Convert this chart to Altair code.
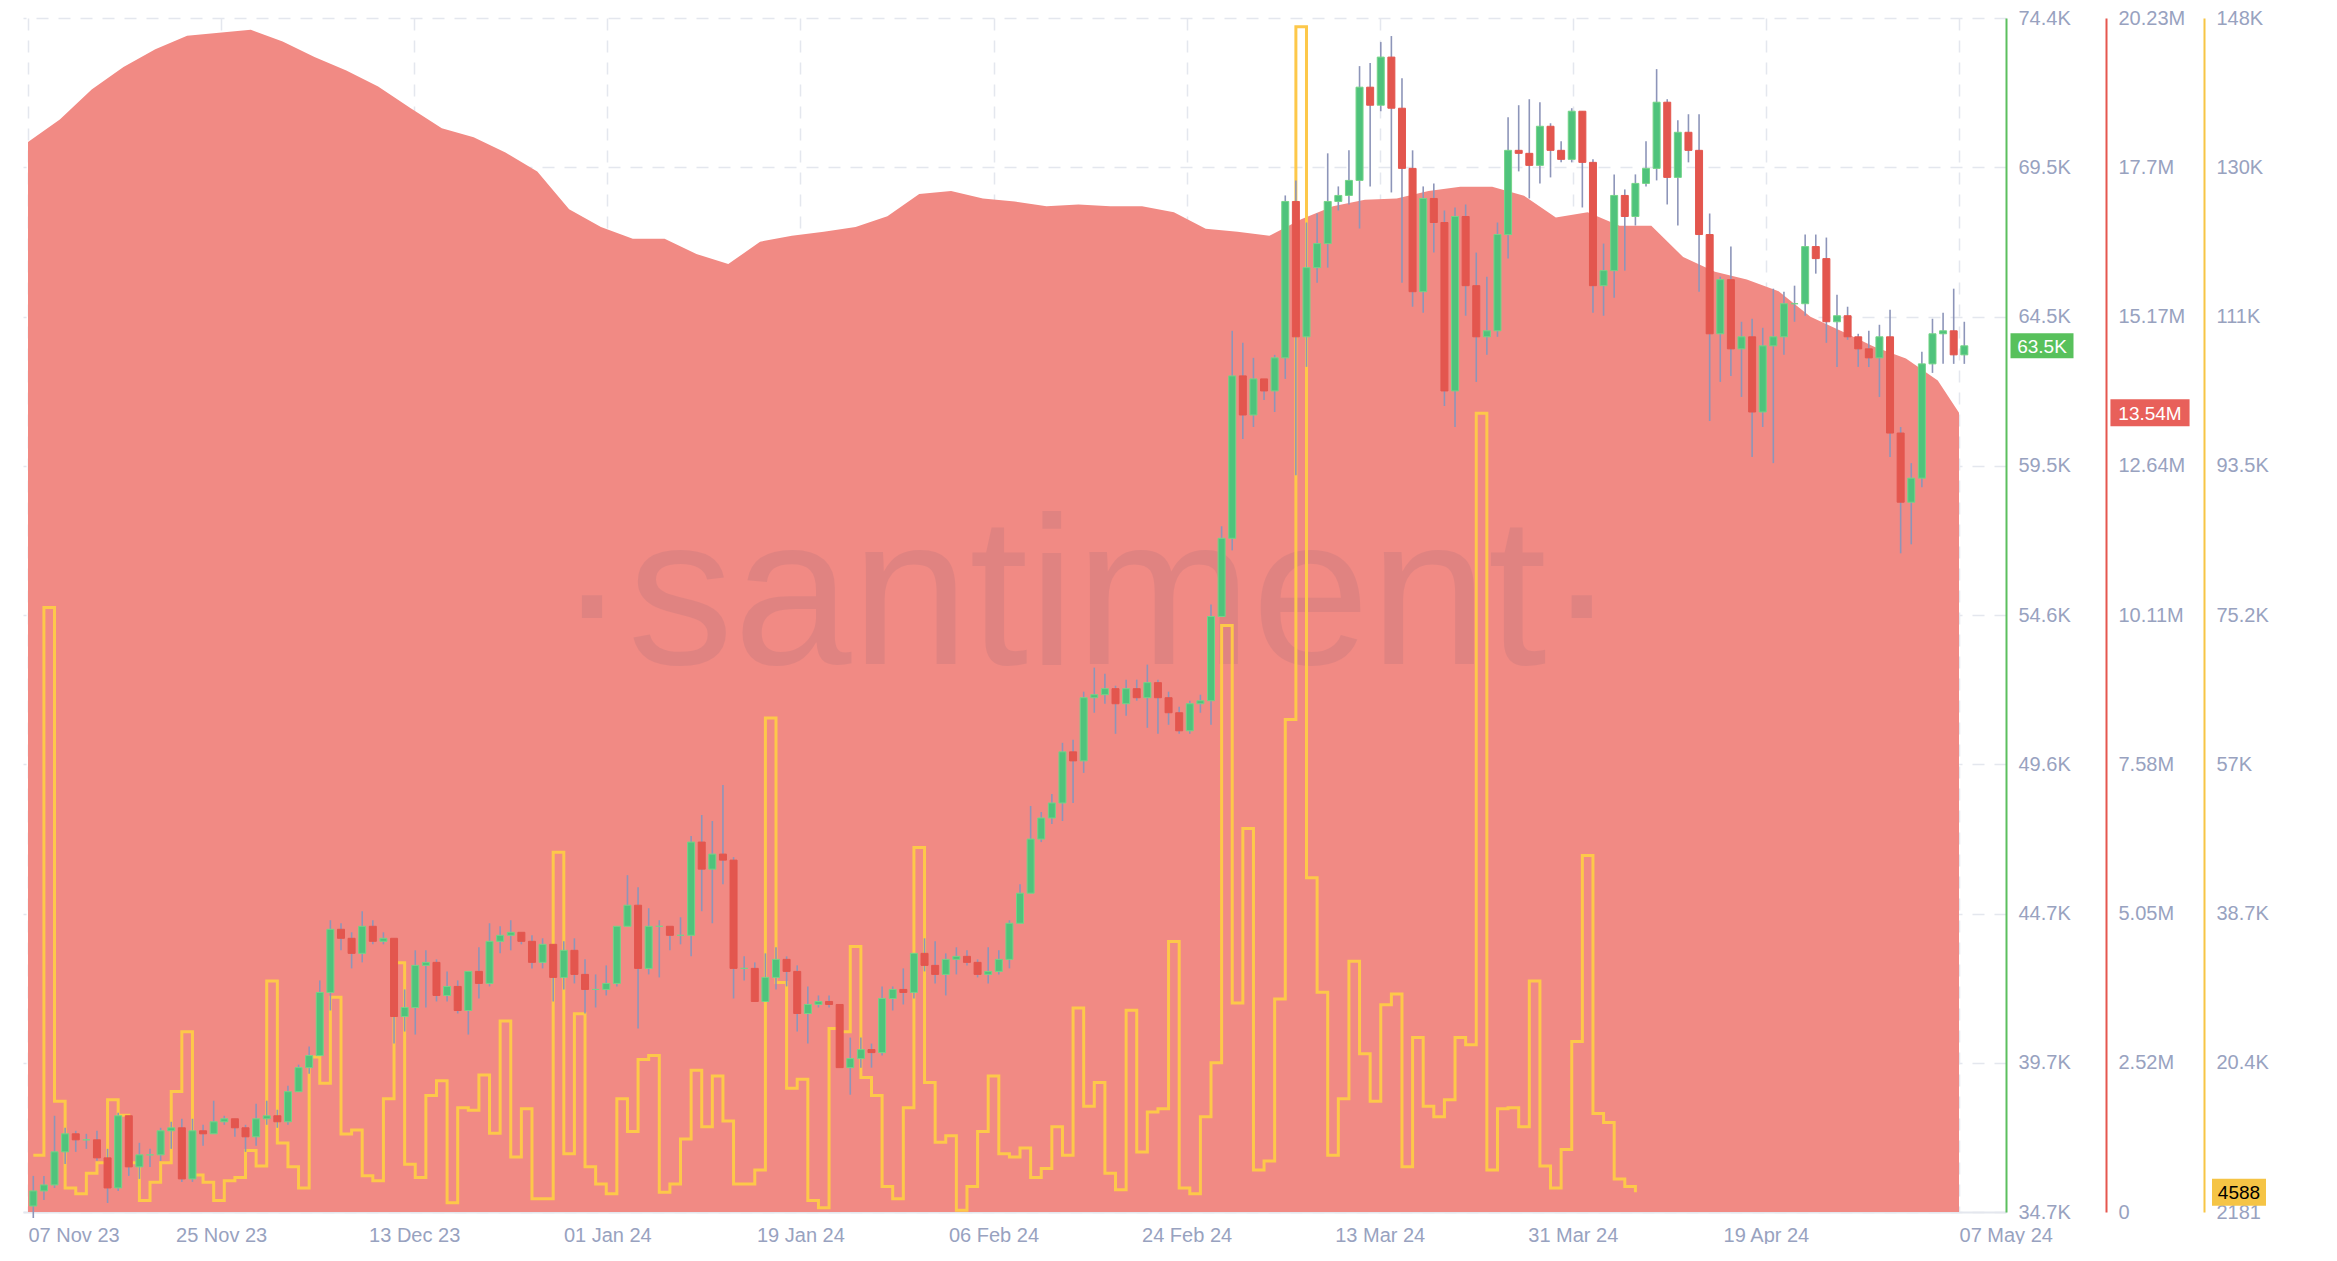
import json
import numpy as np
import pandas as pd
import altair as alt

FONT = "Liberation Sans"

# ---------------- data ----------------
# Daily BTC candles, thousands of USD (Nov 07 2023 .. May 07 2024)
FIRST_OPEN = 34.9
CLOSE = [
    35.4, 35.6, 36.7, 37.3, 37.1, 37.1, 36.5, 35.5, 37.9, 36.2, 36.6, 36.6, 37.4, 37.5, 35.8, 37.4, 37.3, 37.7, 37.8, 37.5, 37.2, 37.8, 37.9, 37.7,
    38.7, 39.5, 39.9, 42.0, 44.1, 43.8, 43.3, 44.2, 43.7, 43.8, 41.2, 41.5, 42.9, 43.0, 41.9, 42.2, 41.4, 42.7, 42.3, 43.7, 43.9, 44.0, 43.7, 43.0, 43.6, 42.5, 43.4, 42.6, 42.1, 42.1, 42.3,
    44.2, 44.9, 42.8, 44.2, 44.2, 43.9, 43.9, 47.0, 46.1, 46.6, 46.4, 42.8, 42.8, 41.7, 42.5, 43.1, 42.7, 41.3, 41.6, 41.7, 41.6, 39.5, 39.8, 40.1, 40.0, 41.8, 42.1, 42.0, 43.3, 42.9, 42.6,
    43.1, 43.2, 43.0, 42.6, 42.7, 43.1, 44.3, 45.3, 47.1, 47.8, 48.3, 50.0, 49.7, 51.8, 51.9, 52.1, 51.6, 52.1, 51.8, 52.3, 51.8, 51.3, 50.7, 51.6, 51.7, 54.5, 57.1, 62.5, 61.2,
    62.4, 62.0, 63.1, 68.3, 63.8, 66.1, 66.9, 68.3, 68.5, 69.0, 72.1, 71.5, 73.1, 71.4, 69.4, 65.3, 68.4, 67.6, 62.0, 67.8, 65.5, 63.8, 64.0, 67.2, 70.0, 69.9, 69.5, 70.8, 70.0, 69.7, 71.3,
    69.6, 65.5, 66.0, 68.5, 67.8, 68.9, 69.4, 71.6, 69.1, 70.6, 70.0, 67.2, 63.9, 65.7, 63.4, 63.8, 61.3, 63.5, 63.8, 64.9, 64.9, 66.8, 66.4, 64.3, 64.5, 63.8, 63.4, 63.1, 63.8, 60.6,
    58.3, 59.1, 62.9, 63.9, 64.0, 63.2, 63.5,
]
HIGH = [
    35.9, 35.9, 37.9, 37.5, 37.4, 37.3, 37.4, 36.8, 38.0, 37.9, 37.0, 36.8, 37.5, 37.7, 37.8, 37.8, 37.6, 38.4, 37.9, 37.8, 37.6, 38.3, 38.4, 38.1,
    38.9, 39.6, 40.2, 42.4, 44.4, 44.3, 44.0, 44.7, 44.4, 44.0, 43.8, 42.1, 43.4, 43.4, 43.1, 42.7, 42.4, 42.7, 43.5, 44.3, 44.2, 44.4, 44.0, 43.9, 43.8, 43.6, 43.7, 43.8, 43.1, 42.6, 42.9,
    44.2, 45.9, 45.5, 44.8, 44.4, 44.2, 44.5, 47.2, 47.9, 47.7, 48.9, 46.5, 43.2, 43.0, 43.3, 43.5, 43.2, 42.9, 42.2, 41.9, 41.9, 41.6, 40.5, 40.5, 40.3, 42.2, 42.2, 42.8, 43.3, 43.8, 43.7,
    43.3, 43.5, 43.4, 43.1, 43.5, 43.4, 44.4, 45.6, 48.2, 48.0, 48.6, 50.3, 50.4, 52.0, 52.8, 52.6, 52.2, 52.4, 52.4, 52.9, 52.4, 52.0, 51.5, 51.7, 51.9, 54.9, 57.5, 64.0, 63.6,
    63.1, 62.4, 63.2, 68.5, 69.0, 67.6, 67.9, 69.9, 68.8, 70.0, 72.8, 72.9, 73.6, 73.8, 72.4, 70.0, 68.8, 68.9, 68.0, 68.1, 68.2, 66.6, 65.8, 67.6, 71.1, 71.5, 71.7, 71.6, 70.9, 70.3, 71.4,
    71.3, 69.7, 66.9, 69.2, 68.7, 69.2, 70.3, 72.7, 71.7, 71.0, 71.2, 71.2, 67.9, 65.8, 66.8, 64.3, 64.4, 64.1, 65.4, 65.3, 65.5, 67.2, 67.2, 67.1, 65.2, 64.8, 63.9, 64.0, 64.2, 64.7,
    60.8, 59.6, 63.3, 64.4, 64.6, 65.4, 64.3,
]
LOW = [
    34.5, 35.1, 35.5, 36.3, 36.7, 36.8, 36.4, 35.0, 35.4, 35.9, 35.8, 36.2, 36.4, 36.8, 35.7, 35.7, 36.9, 37.3, 37.6, 37.2, 36.7, 36.9, 37.6, 37.5,
    37.6, 38.7, 39.3, 39.9, 41.4, 43.4, 42.8, 43.0, 43.6, 43.6, 40.3, 40.7, 40.6, 41.5, 41.7, 41.7, 41.3, 40.6, 41.8, 42.2, 43.3, 43.4, 43.6, 42.8, 42.8, 41.7, 42.1, 42.3, 41.3, 41.5, 41.9,
    42.2, 44.2, 40.8, 42.6, 42.5, 43.4, 43.6, 43.2, 44.7, 44.3, 45.6, 41.8, 42.4, 41.7, 41.7, 42.1, 42.2, 40.7, 40.3, 41.5, 41.5, 39.5, 38.6, 39.5, 39.5, 39.9, 41.4, 41.6, 41.8, 42.7, 42.3,
    41.9, 42.6, 42.9, 42.5, 42.3, 42.6, 42.8, 44.3, 45.3, 47.0, 47.6, 47.7, 48.3, 49.3, 51.3, 51.6, 50.6, 51.2, 51.7, 50.8, 50.6, 50.9, 50.6, 50.6, 51.3, 50.9, 54.5, 56.7, 60.4,
    60.8, 61.7, 61.3, 62.4, 59.2, 62.8, 65.6, 66.1, 68.0, 68.2, 67.4, 68.8, 71.3, 68.6, 65.6, 64.8, 64.6, 66.6, 61.5, 60.8, 64.5, 62.3, 63.2, 63.8, 66.4, 69.3, 68.4, 68.9, 69.1, 69.6, 69.6,
    68.1, 64.6, 64.5, 65.1, 66.0, 67.5, 68.8, 69.0, 68.2, 67.5, 69.6, 65.3, 61.0, 62.3, 62.5, 61.8, 59.8, 60.8, 59.6, 63.2, 64.3, 64.5, 65.9, 63.6, 62.8, 63.7, 62.8, 62.8, 61.8, 59.8,
    56.6, 56.9, 58.8, 62.6, 62.9, 62.9, 62.9,
]
CANDLE_FIRST_CLOSE_TIME = "2023-11-08"

# Red area series, millions (read every 3 days from Nov 07 12:00, last point May 07 12:00)
RED = [
    18.13, 18.51, 19.02, 19.40, 19.70, 19.93, 19.98, 20.03, 19.83, 19.57, 19.34, 19.07, 18.71, 18.36, 18.21,
    17.95, 17.63, 16.99, 16.69, 16.49, 16.49, 16.23, 16.06, 16.44, 16.54, 16.61, 16.69, 16.87, 17.25, 17.30,
    17.17, 17.12, 17.04, 17.07, 17.04, 17.04, 16.94, 16.66, 16.61, 16.54, 16.82, 17.04, 17.15, 17.17, 17.30,
    17.37, 17.37, 17.22, 16.85, 16.94, 16.71, 16.71, 16.18, 15.93, 15.80, 15.60, 15.17, 14.92, 14.66, 14.46,
    14.09, 13.54,
]
RED_FIRST_DATE = "2023-11-07T12:00:00Z"
RED_LAST_DATE = "2024-05-07T12:00:00Z"

# Yellow daily step series, thousands (from Nov 08 2023)
YELLOW = [
    9.1, 76.0, 15.7, 5.1, 4.4, 6.9, 8.2, 15.9, 14.0, 8.2, 3.6, 5.8, 8.2, 16.9, 24.2, 6.7, 5.8, 3.6, 6.0, 6.4,
    9.7, 7.8, 30.4, 10.6, 7.7, 5.1, 21.1, 17.9, 28.4, 11.7, 12.2, 6.6, 6.0, 16.0, 32.6, 8.0, 6.4, 16.4, 18.2, 3.3,
    14.9, 14.6, 18.9, 11.8, 25.5, 8.9, 14.8, 3.8, 3.8, 46.1, 9.3, 26.4, 7.7, 5.6, 4.4, 16.0, 12.0, 20.8, 21.3, 4.6,
    5.6, 11.1, 19.5, 12.6, 18.8, 13.3, 5.6, 5.6, 7.3, 62.5, 30.2, 17.3, 18.4, 3.6, 2.7, 24.6, 24.2, 34.6, 18.6, 16.4,
    5.3, 3.8, 14.9, 46.7, 18.0, 10.7, 11.5, 2.4, 5.3, 12.0, 18.8, 9.3, 8.9, 10.0, 6.4, 7.5, 12.6, 9.1, 27.1, 15.1,
    18.0, 6.9, 4.9, 26.8, 9.5, 14.4, 14.8, 35.2, 5.1, 4.4, 13.8, 20.4, 73.8, 27.7, 49.0, 7.3, 8.4, 28.2, 62.3, 146.9,
    43.0, 29.0, 9.1, 16.0, 32.8, 21.5, 15.7, 27.5, 28.8, 7.7, 23.5, 15.1, 13.8, 15.9, 23.5, 22.6, 99.7, 7.3, 14.8, 14.9,
    12.6, 30.4, 7.8, 5.1, 9.8, 23.0, 45.7, 14.2, 13.1, 6.2, 5.3, 4.588,
]
YELLOW_FIRST_DATE = "2023-11-08"

X_TICK_LABELS = ["07 Nov 23", "25 Nov 23", "13 Dec 23", "01 Jan 24", "19 Jan 24", "06 Feb 24",
                 "24 Feb 24", "13 Mar 24", "31 Mar 24", "19 Apr 24", "07 May 24"]
GREEN_TICK_LABELS = ["34.7K", "39.7K", "44.7K", "49.6K", "54.6K", "59.5K", "64.5K", "69.5K", "74.4K"]
RED_TICK_LABELS = ["0", "2.52M", "5.05M", "7.58M", "10.11M", "12.64M", "15.17M", "17.7M", "20.23M"]
YELLOW_TICK_LABELS = ["2181", "20.4K", "38.7K", "57K", "75.2K", "93.5K", "111K", "130K", "148K"]

GREEN_DOMAIN = [34700, 74400]
RED_DOMAIN = [0, 20230000]
YELLOW_DOMAIN = [2181, 147965]

GREEN_LAST_LABEL = "63.5K"
RED_LAST_LABEL = "13.54M"
YELLOW_LAST_LABEL = "4588"
WATERMARK = "·santiment·"

# ---------------- styling ----------------
W, H = 1983, 1194
LABEL_C = "#98a2bf"
GRID_C = "#e4e7ee"
GREEN_AX = "#5cbf5f"
RED_AX = "#e5574f"
YEL_AX = "#f7c545"
AREA_C = "#f18a84"
UP_C = "#4fc37c"
UP_EDGE = "#74d487"
DOWN_C = "#e3564e"
WICK_C = "#8d95b9"
LINE_C = "#fdc84a"
GREEN_BOX_X, RED_BOX_X, YEL_BOX_X = 2019, 2127, 2216


def iso(ts):
    return ts.strftime("%Y-%m-%dT%H:%M:%SZ")


def ms(s):
    return int(pd.Timestamp(s).value // 10**6)


# candles
c_dates = pd.date_range(CANDLE_FIRST_CLOSE_TIME, periods=len(CLOSE), freq="D", tz="UTC")
opens = [FIRST_OPEN] + CLOSE[:-1]
candles = pd.DataFrame({
    "date": [iso(d) for d in c_dates],
    "open": [v * 1000 for v in opens],
    "close": [v * 1000 for v in CLOSE],
    "high": [v * 1000 for v in HIGH],
    "low": [v * 1000 for v in LOW],
})

r_dates = list(pd.date_range(RED_FIRST_DATE, periods=len(RED) - 1, freq="3D")) + [pd.Timestamp(RED_LAST_DATE)]
red_df = pd.DataFrame({"date": [iso(d) for d in r_dates], "value": [v * 1e6 for v in RED]})

y_dates = pd.date_range(YELLOW_FIRST_DATE, periods=len(YELLOW), freq="D", tz="UTC")
yel_df = pd.DataFrame({"date": [iso(d) for d in y_dates], "value": [v * 1000 for v in YELLOW]})

green_last = pd.DataFrame({"value": [CLOSE[-1] * 1000], "label": [GREEN_LAST_LABEL]})
red_last = pd.DataFrame({"value": [RED[-1] * 1e6], "label": [RED_LAST_LABEL]})
yel_last = pd.DataFrame({"value": [YELLOW[-1] * 1000], "label": [YELLOW_LAST_LABEL]})
wm_df = pd.DataFrame({"t": [WATERMARK]})

# ---------------- scales & axes ----------------
X0 = ms("2023-11-07T12:00:00Z")
X1 = ms("2024-05-11T11:00:00Z")
XSTEP = int(18.2 * 86400000)
x_ticks = [X0 + k * XSTEP for k in range(len(X_TICK_LABELS))]

x_axis = alt.Axis(
    values=x_ticks,
    labelExpr=f"{json.dumps(X_TICK_LABELS)}[round((+datum.value - {X0}) / {XSTEP})]",
    labelAlign={"condition": {"test": f"+datum.value < {X0 + 86400000} || +datum.value > {x_ticks[-1] - 86400000}",
                              "value": "left"}, "value": "center"},
    title=None, ticks=False, domainColor=GRID_C, domainWidth=2,
    grid=True, gridColor=GRID_C, gridDash=[12, 10], gridWidth=1.5,
    labelColor=LABEL_C, labelFont=FONT, labelFontSize=20, labelPadding=13,
    labelOverlap=False, labelFlush=False, labelBound=False,
)
X = alt.X("date:T", scale=alt.Scale(type="utc", domain=[X0, X1]), axis=x_axis)


def yaxis(domain, labels, offset, color, grid):
    lo, hi = domain
    step = (hi - lo) / (len(labels) - 1)
    vals = [lo + i * step for i in range(len(labels))]
    kw = dict(
        orient="right", offset=offset, values=vals,
        labelExpr=f"{json.dumps(labels)}[round((datum.value - {lo}) / {step})]",
        title=None, ticks=False, domain=True, domainColor=color, domainWidth=2,
        labelColor=LABEL_C, labelFont=FONT, labelFontSize=20, labelPadding=12,
        labelAlign="left", labelBaseline="middle", labelOverlap=False, labelBound=False,
    )
    if grid:
        kw.update(grid=True, gridColor=GRID_C, gridDash=[12, 10], gridWidth=1.5)
    else:
        kw.update(grid=False)
    return alt.Axis(**kw)


g_scale = alt.Scale(domain=GREEN_DOMAIN, nice=False, zero=False)
r_scale = alt.Scale(domain=RED_DOMAIN, nice=False, zero=False)
y_scale = alt.Scale(domain=YELLOW_DOMAIN, nice=False, zero=False)
g_axis = yaxis(GREEN_DOMAIN, GREEN_TICK_LABELS, 0, GREEN_AX, True)
r_axis = yaxis(RED_DOMAIN, RED_TICK_LABELS, 100, RED_AX, False)
ye_axis = yaxis(YELLOW_DOMAIN, YELLOW_TICK_LABELS, 198, YEL_AX, False)


def GY(f):
    return alt.Y(f, type="quantitative", scale=g_scale, axis=g_axis)


def RY(f):
    return alt.Y(f, type="quantitative", scale=r_scale, axis=r_axis)


def YY(f):
    return alt.Y(f, type="quantitative", scale=y_scale, axis=ye_axis)


def box(ratio):
    return f"M-{ratio},-1H{ratio}V1H-{ratio}Z"


# ---------------- layers ----------------
area = alt.Chart(red_df).mark_area(color=AREA_C, opacity=1).encode(x=X, y=RY("value"))
red_box = alt.Chart(red_last).mark_point(shape=box(2.93), size=729, filled=True, opacity=1,
                                         color="#e8605a", strokeWidth=0).encode(
    x=alt.value(RED_BOX_X), y=RY("value"))
red_txt = alt.Chart(red_last).mark_text(color="white", font=FONT, fontSize=19, align="center",
                                        baseline="middle", dy=1).encode(
    x=alt.value(RED_BOX_X), y=RY("value"), text="label:N")
red_group = alt.layer(area, red_box, red_txt)

watermark = alt.Chart(wm_df).mark_text(font=FONT, fontSize=212, color="#505070", opacity=0.1,
                                       align="center", baseline="alphabetic").encode(
    x=alt.value(1064), y=alt.value(646), text="t:N")

yline = alt.Chart(yel_df).mark_line(interpolate="step-after", color=LINE_C, strokeWidth=3).encode(
    x=X, y=YY("value"))
y_box = alt.Chart(yel_last).mark_point(shape=box(2.0), size=729, filled=True, opacity=1,
                                       color="#f5c445", strokeWidth=0).encode(
    x=alt.value(YEL_BOX_X), y=YY("value"))
y_txt = alt.Chart(yel_last).mark_text(color="black", font=FONT, fontSize=19, align="center",
                                      baseline="middle", dy=1).encode(
    x=alt.value(YEL_BOX_X), y=YY("value"), text="label:N")
yellow_group = alt.layer(yline, y_box, y_txt)

up = "datum.close >= datum.open"
wicks = alt.Chart(candles).mark_rule(color=WICK_C, strokeWidth=1.6).encode(
    x=X, y=GY("low"), y2="high:Q")
bodies = alt.Chart(candles).mark_bar(size=7, strokeWidth=1).encode(
    x=X, y=GY("open"), y2="close:Q",
    color=alt.condition(up, alt.value(UP_C), alt.value(DOWN_C)),
    stroke=alt.condition(up, alt.value(UP_EDGE), alt.value(DOWN_C)),
)
g_box = alt.Chart(green_last).mark_point(shape=box(2.52), size=625, filled=True, opacity=1,
                                         color="#58c15c", strokeWidth=0).encode(
    x=alt.value(GREEN_BOX_X), y=GY("value"))
g_txt = alt.Chart(green_last).mark_text(color="white", font=FONT, fontSize=19, align="center",
                                        baseline="middle", dy=1).encode(
    x=alt.value(GREEN_BOX_X), y=GY("value"), text="label:N")
green_group = alt.layer(wicks, bodies, g_box, g_txt)

chart = alt.layer(red_group, watermark, yellow_group, green_group).resolve_scale(
    y="independent"
).properties(
    width=W, height=H,
    padding={"left": 15, "top": 10, "right": 290, "bottom": 32},
    autosize=alt.AutoSizeParams(type="none"),
    background="white",
).configure_view(stroke=None)

chart.save("out.html", embed_options={"renderer": "svg", "actions": False})
